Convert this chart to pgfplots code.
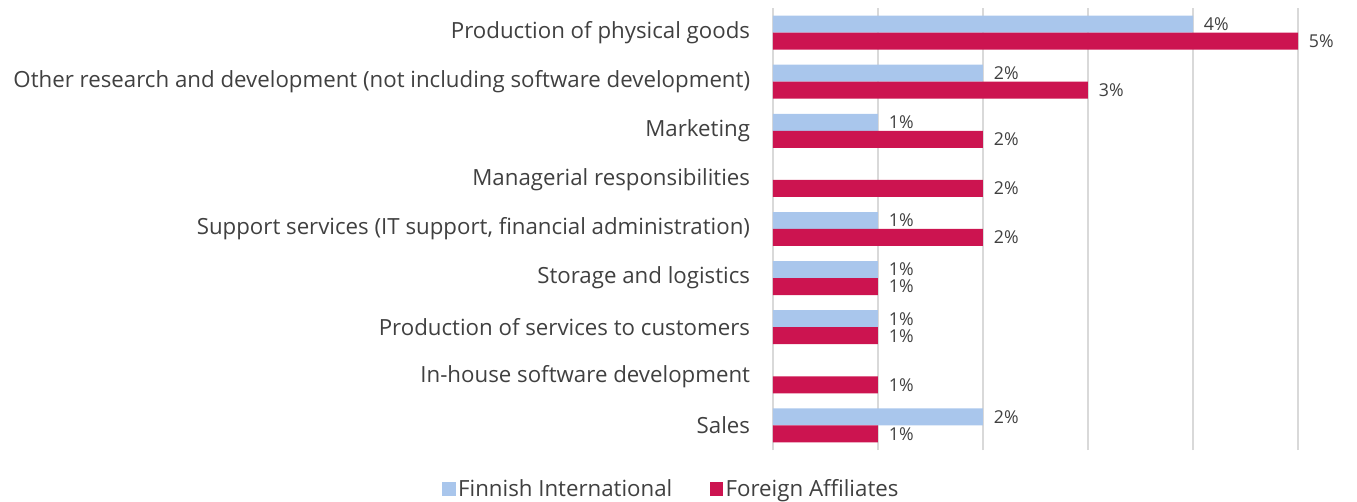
\documentclass[border=0pt]{standalone}
\usepackage{pgfplots}
\pgfplotsset{compat=1.18}
\usepackage{fontspec}
\setmainfont{Open Sans}
\usetikzlibrary{calc}
\definecolor{fin}{HTML}{A9C6EC}
\definecolor{forg}{HTML}{CC1450}
\definecolor{txt}{HTML}{404040}
\definecolor{grd}{HTML}{D9D9D9}
\begin{document}
\begin{tikzpicture}
\begin{axis}[
  name=a,
  xbar,
  width=393.75pt, height=331.5pt,
  scale only axis,
  xmin=0, xmax=5,
  ymin=-0.5, ymax=8.5,
  axis line style={draw=none},
  xmajorgrids, major grid style={grd, line width=0.8pt},
  xtick={0,1,2,3,4,5}, xticklabels={},
  ytick={0,...,8},
  yticklabels={Sales,In-house software development\hspace{4pt},Production of services to customers,Storage and logistics,{Support services (IT support, financial administration)},Managerial responsibilities,Marketing,Other research and development (not including software development),Production of physical goods\hspace{4pt}},
  major tick length=0pt,
  yticklabel style={font=\fontsize{16.7}{18}\selectfont, text=txt, inner sep=0pt, xshift=-17pt},
  bar width=0.346,
  /pgf/number format/assume math mode=true,
  nodes near coords={\pgfmathprintnumber{\pgfplotspointmeta}\%},
  nodes near coords style={font=\fontsize{13.3}{15}\selectfont, text=txt, anchor=west, inner sep=0pt, xshift=8pt},
  legend style={draw=none, at={(-0.193,-0.088)}, anchor=center, legend columns=2,
    font=\fontsize{16.7}{18}\selectfont, text=txt,
    /tikz/every even column/.append style={column sep=26pt}},
  legend image code/.code={\fill[#1] (0pt,-5pt) rectangle (10pt,5pt);},
]
\addplot[fill=fin, draw=none, bar shift=0.173] coordinates {(2,0) (1,2) (1,3) (1,4) (1,6) (2,7) (4,8)};
\addplot[fill=forg, draw=none, bar shift=-0.173] coordinates {(1,0) (1,1) (1,2) (1,3) (2,4) (2,5) (2,6) (3,7) (5,8)};
\legend{Finnish International, Foreign Affiliates}
\end{axis}
\pgfresetboundingbox
\path[use as bounding box] ($(a.south west)+(-579.75pt,-39pt)$) rectangle ($(a.north east)+(44.25pt,6pt)$);
\end{tikzpicture}
\end{document}
